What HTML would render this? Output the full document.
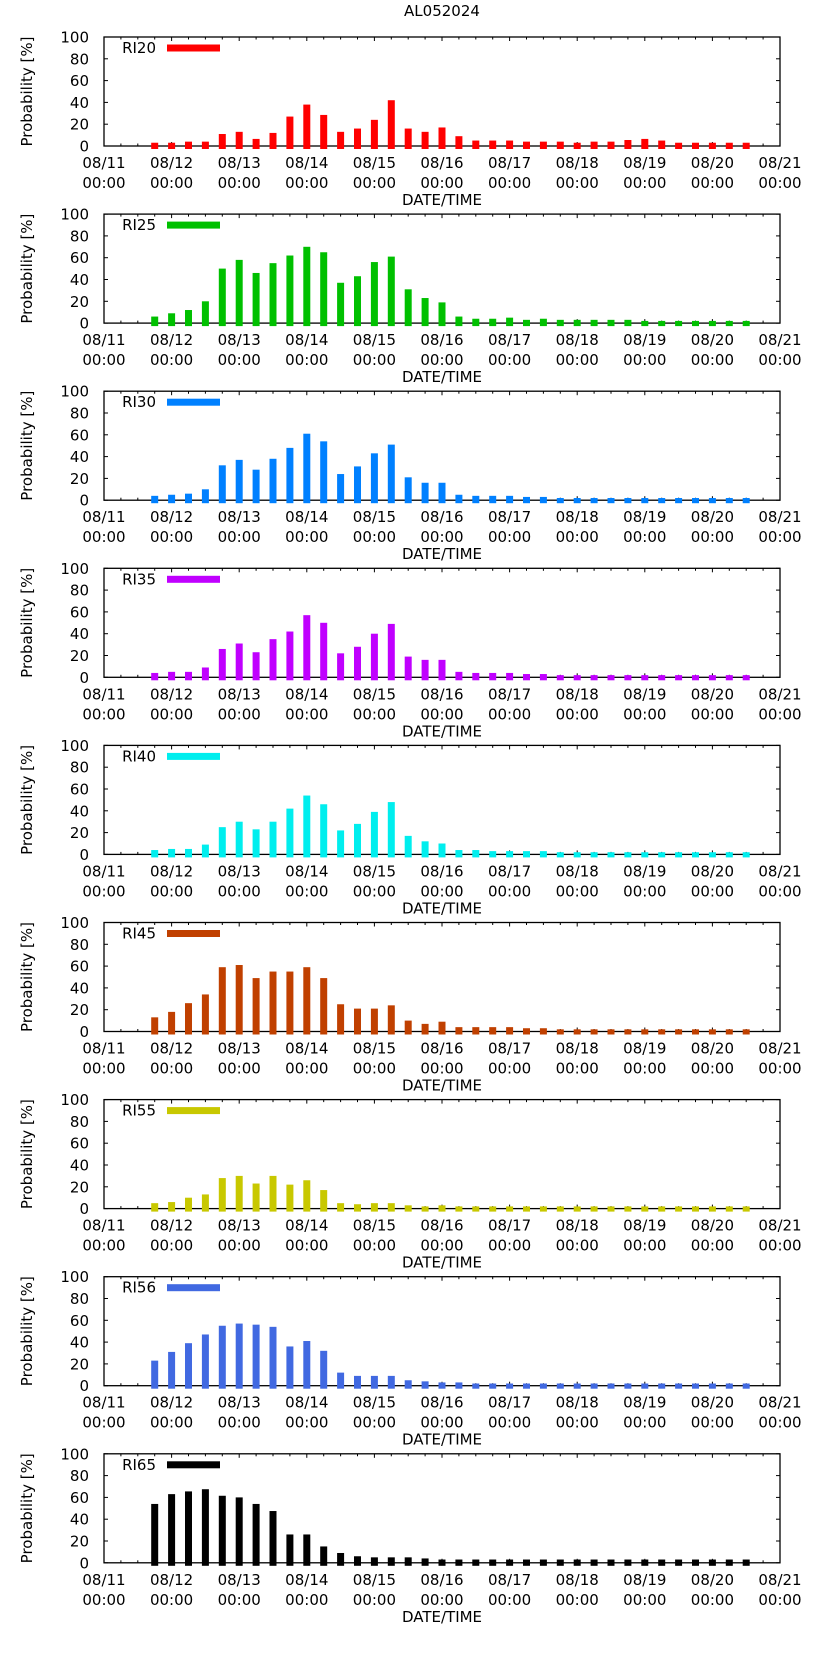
<!DOCTYPE html>
<html><head><meta charset="utf-8"><style>
html,body{margin:0;padding:0;background:#fff;}
svg{display:block;font-family:"DejaVu Sans","Liberation Sans",sans-serif;}
</style></head><body>
<svg id="chart" width="822" height="1653" viewBox="0 0 822 1653" xmlns="http://www.w3.org/2000/svg">
<text x="442" y="16" font-size="15" text-anchor="middle">AL052024</text>
</svg>
<script>
const seriesNames = ["RI20","RI25","RI30","RI35","RI40","RI45","RI55","RI56","RI65"];
const seriesColors = ["#ff0000","#00c000","#0080ff","#c000ff","#00eeee","#c04000","#c8c800","#4169e1","#000000"];
const ri20 = [3,3,4,4,11,13,6.5,12,27,38,28.5,13,16,24,42,16,13,17,9,5,5,5,4,4,4,3,4,4,5.5,6.5,5,3,3,3,3,3];
const ri25 = [6,9,12,20,50,58,46,55,62,70,65,37,43,56,61,31,23,19,6,4,4,5,3,4,3,3,3,3,3,2,2,2,2,2,2,2];
const ri30 = [4,5,6,10,32,37,28,38,48,61,54,24,31,43,51,21,16,16,5,4,4,4,3,3,2,2,2,2,2,2,2,2,2,2,2,2];
const ri35 = [4,5,5,9,26,31,23,35,42,57,50,22,28,40,49,19,16,16,5,4,4,4,3,3,2,2,2,2,2,2,2,2,2,2,2,2];
const ri40 = [4,5,5,9,25,30,23,30,42,54,46,22,28,39,48,17,12,10,4,4,3,3,3,3,2,2,2,2,2,2,2,2,2,2,2,2];
const ri45 = [13,18,26,34,59,61,49,55,55,59,49,25,21,21,24,10,7,9,4,4,4,4,3,3,2,2,2,2,2,2,2,2,2,2,2,2];
const ri55 = [5,6,10,13,28,30,23,30,22,26,17,5,4,5,5,3,2,3,2,2,2,2,2,2,2,2,2,2,2,2,2,2,2,2,2,2];
const ri56 = [23,31,39,47,55,57,56,54,36,41,32,12,9,9,9,5,4,3,3,2,2,2,2,2,2,2,2,2,2,2,2,2,2,2,2,2];
const ri65 = [54,63,65.5,67.5,61.5,60,54,47.5,26,26,15,9,6,5,5,5,4,3,3,3,3,3,3,3,3,3,3,3,3,3,3,3,3,3,3,3];
const seriesValues = [ri20,ri25,ri30,ri35,ri40,ri45,ri55,ri56,ri65];
const firstStepIndex = 3; // first bar at 08/11 18:00, 6-hourly
const dayLabels = ["08/11","08/12","08/13","08/14","08/15","08/16","08/17","08/18","08/19","08/20","08/21"];
const yTicks = [0,20,40,60,80,100];

const NS="http://www.w3.org/2000/svg";
const svg=document.getElementById('chart');
const L=104,R=780,PH=109,TOP0=37,STEP=177.1;
function mk(tag,attrs,parent){const e=document.createElementNS(NS,tag);for(const k in attrs)e.setAttribute(k,attrs[k]);(parent||svg).appendChild(e);return e;}
function xDay(d){return L+(R-L)*d/(dayLabels.length-1);}
function xStep(s){return xDay(s/4);}

seriesNames.forEach((name,p)=>{
  const top=TOP0+STEP*p, bot=top+PH;
  const yv=v=>bot-PH*v/100;
  const g=mk('g',{});
  
  
  // frame
  const fr=mk('rect',{x:L,y:top,width:R-L,height:PH,fill:'none',stroke:'#000','stroke-width':1.3},g);
  
  
  // x ticks
  for(let s=0;s<=40;s++){
    const x=xStep(s), len=(s%4===0)?4:2.5;
    mk('line',{x1:x,x2:x,y1:bot,y2:bot-len,stroke:'#000','stroke-width':1},g);
    mk('line',{x1:x,x2:x,y1:top,y2:top+len,stroke:'#000','stroke-width':1},g);
  }
  dayLabels.forEach((d,i)=>{
    const t=mk('text',{x:xDay(i),y:top+131,'font-size':15,'text-anchor':'middle'},g);
    t.textContent=d;
    
    
    const t2=mk('text',{x:xDay(i),y:top+151,'font-size':15,'text-anchor':'middle'},g);
    t2.textContent='00:00';
    
    
  });
  yTicks.forEach(v=>{
    const y=yv(v);
    mk('line',{x1:L,x2:L+4,y1:y,y2:y,stroke:'#000','stroke-width':1},g);
    mk('line',{x1:R,x2:R-4,y1:y,y2:y,stroke:'#000','stroke-width':1},g);
    const t=mk('text',{x:89,y:y+5.5,'font-size':15,'text-anchor':'end'},g);
    t.textContent=v;
    
    
  });
  const yt=mk('text',{x:0,y:0,'font-size':15,'text-anchor':'middle',transform:`translate(32,${top+PH/2}) rotate(-90)`},g);
  yt.textContent='Probability [%]';
  
  
  const xt=mk('text',{x:442,y:top+168,'font-size':15,'text-anchor':'middle'},g);
  xt.textContent='DATE/TIME';
  
  
  // bars
  seriesValues[p].forEach((v,i)=>{
    const x=xStep(firstStepIndex+i);
    const b=mk('rect',{x:x-3.5,y:yv(v),width:7,height:bot+3-yv(v),fill:seriesColors[p]},g);
    
    
  });
  // legend
  const lt=mk('text',{x:156,y:top+16,'font-size':15,'text-anchor':'end'},g);
  lt.textContent=name;
  
  
  const lr=mk('rect',{x:167,y:top+7.5,width:53,height:7,fill:seriesColors[p]},g);
  
  
});
</script>
</body></html>
